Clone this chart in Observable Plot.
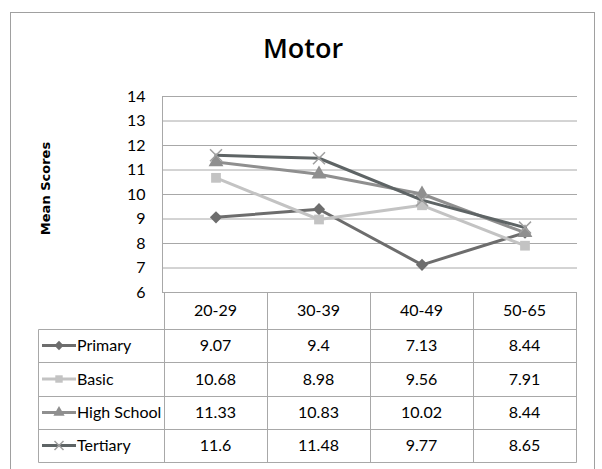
<!DOCTYPE html>
<html><head><meta charset="utf-8">
<script src="https://cdn.jsdelivr.net/npm/d3@7"></script>
<script src="https://cdn.jsdelivr.net/npm/@observablehq/plot@0.6"></script>
<style>
body{margin:0;background:#fff;}
#wrap{position:relative;width:602px;height:469px;overflow:hidden;background:#fff;}
#border{position:absolute;left:10px;top:12px;width:583px;height:480px;border:1px solid #a0a0a0;}
#title{position:absolute;top:29px;left:2px;width:602px;text-align:center;font-family:"Open Sans",sans-serif;font-weight:600;font-size:27px;line-height:normal;color:#000;}
#chart{position:absolute;left:0;top:0;}
#table{position:absolute;left:0;top:0;}
</style></head><body>
<div id="wrap"><div id="border"></div><div id="title">Motor</div><div id="chart"></div><svg id="table" width="602" height="469"></svg></div>
<script>
// ---- data ----
const ageGroups = ["20-29", "30-39", "40-49", "50-65"];
const seriesNames = ["Primary", "Basic", "High School", "Tertiary"];
const primary = [9.07, 9.4, 7.13, 8.44];
const basic = [10.68, 8.98, 9.56, 7.91];
const highSchool = [11.33, 10.83, 10.02, 8.44];
const tertiary = [11.6, 11.48, 9.77, 8.65];
const yTicks = [6, 7, 8, 9, 10, 11, 12, 13, 14];
const yLabel = "Mean Scores";

// ---- styles ----
const seriesValues = [primary, basic, highSchool, tertiary];
const lineColors = ["#6d6d6d", "#c3c3c3", "#8f8f8f", "#5e6465"];
const markerColors = ["#6d6d6d", "#c3c3c3", "#8f8f8f", "#a0a0a0"];
const plotSymbols = ["diamond2", "square", "triangle", "times"];
const d3Symbols = [d3.symbolDiamond2, d3.symbolSquare, d3.symbolTriangle, d3.symbolTimes];
const gridColor = "#a8a8a8";
const narrow = 'Lato,"Liberation Sans Narrow",sans-serif';
const fs = 16;

const rows = seriesNames.flatMap((s, i) => ageGroups.map((a, j) => ({series: s, age: a, value: seriesValues[i][j]})));

const seriesMarks = seriesNames.flatMap((s, i) => {
  const d = rows.filter(r => r.series === s);
  const line = Plot.line(d, {x: "age", y: "value", stroke: lineColors[i], strokeWidth: 3, strokeLinejoin: "round"});
  const dot = plotSymbols[i] === "times"
    ? Plot.dot(d, {x: "age", y: "value", symbol: "times", r: 5.5, stroke: markerColors[i], strokeWidth: 1.5})
    : Plot.dot(d, {x: "age", y: "value", symbol: plotSymbols[i], r: 5.5, fill: markerColors[i], stroke: "none"});
  return [line, dot];
});

const chart = Plot.plot({
  width: 602, height: 310,
  marginTop: 96, marginBottom: 18, marginLeft: 162, marginRight: 25,
  style: {fontFamily: narrow, fontSize: fs + "px", color: "#000", background: "transparent", overflow: "visible"},
  x: {domain: ageGroups, type: "band", padding: 0, axis: null},
  y: {domain: [6, 14], axis: null},
  marks: [
    Plot.gridY(yTicks, {stroke: gridColor, strokeOpacity: 1}),
    Plot.axisY(yTicks, {tickSize: 0, tickPadding: 17, label: null, fontSize: fs}),
    Plot.frame({anchor: "left", stroke: gridColor, strokeOpacity: 1}),
    Plot.text([yLabel], {frameAnchor: "left", textAnchor: "middle", rotate: -90, dx: -117, dy: -6, fontFamily: '"DejaVu Sans",sans-serif', fontWeight: "bold", fontSize: 13, fill: "#000"}),
    ...seriesMarks
  ]
});
document.getElementById("chart").appendChild(chart);

// ---- data table below the plot, aligned with the x scale ----
const xs = chart.scale("x");
const colEdges = [...ageGroups.map(a => xs.apply(a)), xs.apply(ageGroups[ageGroups.length - 1]) + xs.bandwidth];
const legendLeft = 38;
const rowEdges = [292, 329, 362, 396, 429, 462];
const c = v => Math.round(v) + 0.5;
const t = d3.select("#table");
const right = colEdges[colEdges.length - 1];

rowEdges.forEach((y, i) => {
  t.append("line").attr("x1", c(i === 0 ? colEdges[0] : legendLeft)).attr("x2", c(right))
    .attr("y1", c(y)).attr("y2", c(y)).attr("stroke", gridColor);
});
t.append("line").attr("x1", c(legendLeft)).attr("x2", c(legendLeft)).attr("y1", c(rowEdges[1])).attr("y2", c(rowEdges[5])).attr("stroke", gridColor);
colEdges.forEach(x => {
  t.append("line").attr("x1", c(x)).attr("x2", c(x)).attr("y1", c(rowEdges[0])).attr("y2", c(rowEdges[5])).attr("stroke", gridColor);
});

const mid = i => (rowEdges[i] + rowEdges[i + 1]) / 2;
ageGroups.forEach((a, j) => {
  t.append("text").attr("x", xs.apply(a) + xs.bandwidth / 2).attr("y", mid(0)).attr("dy", "0.36em")
    .attr("text-anchor", "middle").attr("font-family", narrow).attr("font-size", fs).text(a);
});
seriesNames.forEach((s, i) => {
  const y = mid(i + 1);
  t.append("line").attr("x1", 42).attr("x2", 76).attr("y1", y).attr("y2", y).attr("stroke", lineColors[i]).attr("stroke-width", 3);
  const sym = d3.symbol(d3Symbols[i], 55)();
  const p = t.append("path").attr("d", sym).attr("transform", `translate(59,${y})`);
  if (d3Symbols[i] === d3.symbolTimes) p.attr("fill", "none").attr("stroke", markerColors[i]).attr("stroke-width", 1.5);
  else p.attr("fill", markerColors[i]);
  t.append("text").attr("x", 77).attr("y", y).attr("dy", "0.36em").attr("font-family", narrow).attr("font-size", fs).text(s);
  ageGroups.forEach((a, j) => {
    t.append("text").attr("x", xs.apply(a) + xs.bandwidth / 2).attr("y", y).attr("dy", "0.36em")
      .attr("text-anchor", "middle").attr("font-family", narrow).attr("font-size", fs).text(String(seriesValues[i][j]));
  });
});
</script>
</body></html>
